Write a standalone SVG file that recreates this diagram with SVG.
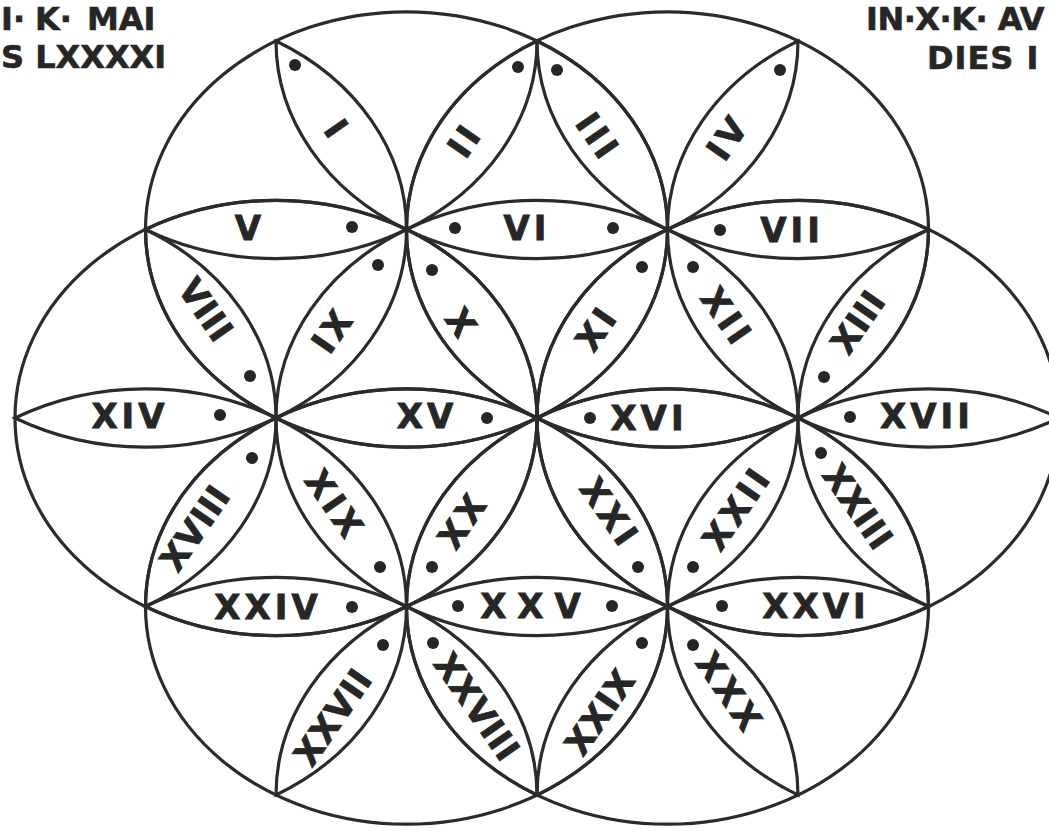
<svg xmlns="http://www.w3.org/2000/svg" width="1049" height="832" viewBox="0 0 1049 832">
<style>
.bg{fill:#ffffff}
.ln{fill:none;stroke:#2b2b2b;stroke-width:3.2}
.dot{fill:#262626}
.lb{font-family:"DejaVu Sans","Liberation Sans",sans-serif;font-weight:bold;font-size:34px;fill:#262626;stroke:#262626;stroke-width:0.8px;text-anchor:middle;dominant-baseline:central;letter-spacing:4px}
.tight{letter-spacing:1px}
.wide{letter-spacing:11px}
.hd{font-family:"DejaVu Sans","Liberation Sans",sans-serif;font-weight:bold;font-size:32px;fill:#262626;stroke:#262626;stroke-width:0.6px}
</style>
<rect class="bg" x="0" y="0" width="1049" height="832"/>
<g id="outer-circles">
<ellipse class="ln" cx="406.5" cy="229.5" rx="261" ry="217.7"/>
<ellipse class="ln" cx="667.5" cy="229.5" rx="261" ry="217.7"/>
<ellipse class="ln" cx="276" cy="418" rx="261" ry="217.7"/>
<ellipse class="ln" cx="798" cy="418" rx="261" ry="217.7"/>
<ellipse class="ln" cx="406.5" cy="606.5" rx="261" ry="217.7"/>
<ellipse class="ln" cx="667.5" cy="606.5" rx="261" ry="217.7"/>
</g>
<g id="connectors"></g>
<g id="petal-I"><path class="ln" d="M276,41 A261,217.7 0 0 1 406.5,229.5 A261,217.7 0 0 1 276,41 Z"/><circle class="dot" cx="295" cy="65" r="6"/><text class="lb" transform="translate(337,130) rotate(55.3)">I</text></g>
<g id="petal-II"><path class="ln" d="M537,41 A261,217.7 0 0 1 406.5,229.5 A261,217.7 0 0 1 537,41 Z"/><circle class="dot" cx="518" cy="67" r="6"/><text class="lb" transform="translate(465,140) rotate(-55.3)">II</text></g>
<g id="petal-III"><path class="ln" d="M537,41 A261,217.7 0 0 1 667.5,229.5 A261,217.7 0 0 1 537,41 Z"/><circle class="dot" cx="557" cy="70" r="6"/><text class="lb" transform="translate(598,137) rotate(55.3)">III</text></g>
<g id="petal-IV"><path class="ln" d="M798,41 A261,217.7 0 0 1 667.5,229.5 A261,217.7 0 0 1 798,41 Z"/><circle class="dot" cx="780" cy="70" r="6"/><text class="lb" transform="translate(728,137) rotate(-55.3)">IV</text></g>
<g id="petal-V"><path class="ln" d="M145.5,229.5 A261,217.7 0 0 1 406.5,229.5 A261,217.7 0 0 1 145.5,229.5 Z"/><circle class="dot" cx="352" cy="227" r="6"/><text class="lb" transform="translate(250,228)">V</text></g>
<g id="petal-VI"><path class="ln" d="M406.5,229.5 A261,217.7 0 0 1 667.5,229.5 A261,217.7 0 0 1 406.5,229.5 Z"/><circle class="dot" cx="455" cy="228" r="6"/><circle class="dot" cx="613" cy="228" r="6"/><text class="lb" transform="translate(527,228)">VI</text></g>
<g id="petal-VII"><path class="ln" d="M667.5,229.5 A261,217.7 0 0 1 928.5,229.5 A261,217.7 0 0 1 667.5,229.5 Z"/><circle class="dot" cx="720" cy="230" r="6"/><text class="lb" transform="translate(792,230)">VII</text></g>
<g id="petal-VIII"><path class="ln" d="M145.5,229.5 A261,217.7 0 0 1 276,418 A261,217.7 0 0 1 145.5,229.5 Z"/><circle class="dot" cx="250" cy="376" r="6"/><text class="lb tight" transform="translate(206,310) rotate(55.3)">VIII</text></g>
<g id="petal-IX"><path class="ln" d="M406.5,229.5 A261,217.7 0 0 1 276,418 A261,217.7 0 0 1 406.5,229.5 Z"/><circle class="dot" cx="378" cy="265" r="6"/><text class="lb" transform="translate(333,330) rotate(-55.3)">IX</text></g>
<g id="petal-X"><path class="ln" d="M406.5,229.5 A261,217.7 0 0 1 537,418 A261,217.7 0 0 1 406.5,229.5 Z"/><circle class="dot" cx="432" cy="270" r="6"/><text class="lb" transform="translate(462,324) rotate(55.3)">X</text></g>
<g id="petal-XI"><path class="ln" d="M667.5,229.5 A261,217.7 0 0 1 537,418 A261,217.7 0 0 1 667.5,229.5 Z"/><circle class="dot" cx="642" cy="267" r="6"/><text class="lb" transform="translate(597,328) rotate(-55.3)">XI</text></g>
<g id="petal-XII"><path class="ln" d="M667.5,229.5 A261,217.7 0 0 1 798,418 A261,217.7 0 0 1 667.5,229.5 Z"/><circle class="dot" cx="693" cy="267" r="6"/><text class="lb" transform="translate(727,317) rotate(55.3)">XII</text></g>
<g id="petal-XIII"><path class="ln" d="M928.5,229.5 A261,217.7 0 0 1 798,418 A261,217.7 0 0 1 928.5,229.5 Z"/><circle class="dot" cx="824" cy="377" r="6"/><text class="lb tight" transform="translate(858,322) rotate(-55.3)">XIII</text></g>
<g id="petal-XIV"><path class="ln" d="M15,418 A261,217.7 0 0 1 276,418 A261,217.7 0 0 1 15,418 Z"/><circle class="dot" cx="220" cy="415" r="6"/><text class="lb" transform="translate(130,416)">XIV</text></g>
<g id="petal-XV"><path class="ln" d="M276,418 A261,217.7 0 0 1 537,418 A261,217.7 0 0 1 276,418 Z"/><circle class="dot" cx="487" cy="418" r="6"/><text class="lb" transform="translate(427,416)">XV</text></g>
<g id="petal-XVI"><path class="ln" d="M537,418 A261,217.7 0 0 1 798,418 A261,217.7 0 0 1 537,418 Z"/><circle class="dot" cx="590" cy="418" r="6"/><text class="lb" transform="translate(649,418)">XVI</text></g>
<g id="petal-XVII"><path class="ln" d="M798,418 A261,217.7 0 0 1 1059,418 A261,217.7 0 0 1 798,418 Z"/><circle class="dot" cx="850" cy="417" r="6"/><text class="lb" transform="translate(927,416)">XVII</text></g>
<g id="petal-XVIII"><path class="ln" d="M276,418 A261,217.7 0 0 1 145.5,606.5 A261,217.7 0 0 1 276,418 Z"/><circle class="dot" cx="252" cy="458" r="6"/><text class="lb tight" transform="translate(195,528) rotate(-55.3)">XVIII</text></g>
<g id="petal-XIX"><path class="ln" d="M276,418 A261,217.7 0 0 1 406.5,606.5 A261,217.7 0 0 1 276,418 Z"/><circle class="dot" cx="380" cy="567" r="6"/><text class="lb" transform="translate(335,505) rotate(55.3)">XIX</text></g>
<g id="petal-XX"><path class="ln" d="M537,418 A261,217.7 0 0 1 406.5,606.5 A261,217.7 0 0 1 537,418 Z"/><circle class="dot" cx="432" cy="567" r="6"/><text class="lb" transform="translate(463,520) rotate(-55.3)">XX</text></g>
<g id="petal-XXI"><path class="ln" d="M537,418 A261,217.7 0 0 1 667.5,606.5 A261,217.7 0 0 1 537,418 Z"/><circle class="dot" cx="638" cy="567" r="6"/><text class="lb" transform="translate(610,513) rotate(55.3)">XXI</text></g>
<g id="petal-XXII"><path class="ln" d="M798,418 A261,217.7 0 0 1 667.5,606.5 A261,217.7 0 0 1 798,418 Z"/><circle class="dot" cx="693" cy="567" r="6"/><text class="lb" transform="translate(737,508) rotate(-55.3)">XXII</text></g>
<g id="petal-XXIII"><path class="ln" d="M798,418 A261,217.7 0 0 1 928.5,606.5 A261,217.7 0 0 1 798,418 Z"/><circle class="dot" cx="821" cy="453" r="6"/><text class="lb tight" transform="translate(858,507) rotate(55.3)">XXIII</text></g>
<g id="petal-XXIV"><path class="ln" d="M145.5,606.5 A261,217.7 0 0 1 406.5,606.5 A261,217.7 0 0 1 145.5,606.5 Z"/><circle class="dot" cx="352" cy="607" r="6"/><text class="lb" transform="translate(268,607)">XXIV</text></g>
<g id="petal-XXV"><path class="ln" d="M406.5,606.5 A261,217.7 0 0 1 667.5,606.5 A261,217.7 0 0 1 406.5,606.5 Z"/><circle class="dot" cx="458" cy="606" r="6"/><circle class="dot" cx="612" cy="606" r="6"/><text class="lb wide" transform="translate(536,606)">XXV</text></g>
<g id="petal-XXVI"><path class="ln" d="M667.5,606.5 A261,217.7 0 0 1 928.5,606.5 A261,217.7 0 0 1 667.5,606.5 Z"/><circle class="dot" cx="722" cy="606" r="6"/><text class="lb" transform="translate(816,606)">XXVI</text></g>
<g id="petal-XXVII"><path class="ln" d="M406.5,606.5 A261,217.7 0 0 1 276,795 A261,217.7 0 0 1 406.5,606.5 Z"/><circle class="dot" cx="383" cy="645" r="6"/><text class="lb tight" transform="translate(333,717) rotate(-55.3)">XXVII</text></g>
<g id="petal-XXVIII"><path class="ln" d="M406.5,606.5 A261,217.7 0 0 1 537,795 A261,217.7 0 0 1 406.5,606.5 Z"/><circle class="dot" cx="433" cy="643" r="6"/><text class="lb tight" transform="translate(477,707) rotate(55.3)">XXVIII</text></g>
<g id="petal-XXIX"><path class="ln" d="M667.5,606.5 A261,217.7 0 0 1 537,795 A261,217.7 0 0 1 667.5,606.5 Z"/><circle class="dot" cx="642" cy="643" r="6"/><text class="lb tight" transform="translate(600,712) rotate(-55.3)">XXIX</text></g>
<g id="petal-XXX"><path class="ln" d="M667.5,606.5 A261,217.7 0 0 1 798,795 A261,217.7 0 0 1 667.5,606.5 Z"/><circle class="dot" cx="693" cy="645" r="6"/><text class="lb" transform="translate(730,693) rotate(55.3)">XXX</text></g>
<g id="header-left">
<text class="hd" y="30"><tspan x="1">I· </tspan><tspan x="35">K· </tspan><tspan x="87">MAI</tspan></text>
<text class="hd" x="1" y="68">S LXXXXI</text>
</g>
<g id="header-right">
<text class="hd" x="866" y="30" style="letter-spacing:-0.5px">IN·X·K· AV</text>
<text class="hd" x="927" y="69" style="letter-spacing:1px">DIES I</text>
</g>
</svg>
